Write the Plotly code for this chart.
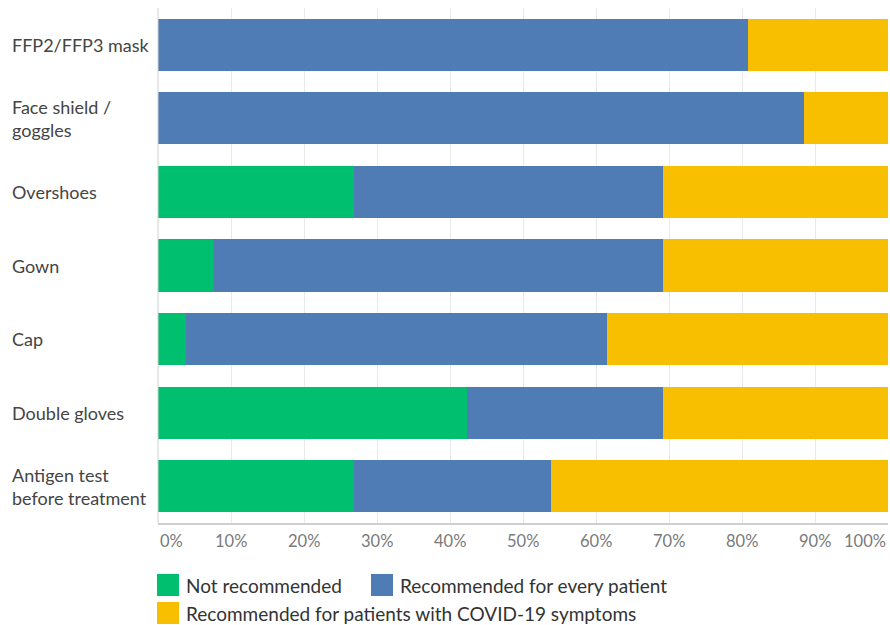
import plotly.graph_objects as go

categories = ["FFP2/FFP3 mask", "Face shield /<br>goggles", "Overshoes", "Gown", "Cap",
              "Double gloves", "Antigen test<br>before treatment"]
not_recommended = [0, 0, 26.9, 7.7, 3.8, 42.3, 26.9]
every_patient = [80.8, 88.5, 42.3, 61.5, 57.7, 26.9, 26.9]
covid_symptoms = [19.2, 11.5, 30.8, 30.8, 38.5, 30.8, 46.2]
tick_vals = [0, 10, 20, 30, 40, 50, 60, 70, 80, 90, 100]
tick_text = ["0%", "10%", "20%", "30%", "40%", "50%", "60%", "70%", "80%", "90%", "100%"]
series_names = ["Not recommended", "Recommended for every patient",
                "Recommended for patients with COVID-19 symptoms"]

GREEN, BLUE, YELLOW = "#00BF6F", "#507CB6", "#F8BF00"

W, H = 890, 625
L, R, T, B = 158, 2, 8, 102
PW, PH = W - L - R, H - T - B


def px(x):
    return (x - L) / PW


def py(y):
    return (H - B - y) / PH


fig = go.Figure()
for name, vals, col in zip(series_names, [not_recommended, every_patient, covid_symptoms],
                           [GREEN, BLUE, YELLOW]):
    fig.add_trace(go.Bar(y=list(range(len(categories))), x=vals, name=name, orientation="h",
                         marker=dict(color=col, line=dict(width=0)), showlegend=False))

ann = []
# category labels, left aligned
for i, c in enumerate(categories):
    ann.append(dict(x=px(10), xref="paper", y=i, yref="y", text=c, showarrow=False,
                    xanchor="left", yanchor="middle", align="left",
                    font=dict(family="Lato", size=18, color="#444444")))
# tick labels
for v, t in zip(tick_vals, tick_text):
    anchor = "left" if v == 0 else ("right" if v == 100 else "center")
    ann.append(dict(x=v, xref="x", y=py(541), yref="paper", text=t, showarrow=False,
                    xanchor=anchor, yanchor="middle",
                    font=dict(family="Lato", size=16.5, color="#7a7a7a")))

# manual legend
shapes = []
legend_items = [(157, 585, GREEN, series_names[0]), (371, 585, BLUE, series_names[1]),
                (157, 613, YELLOW, series_names[2])]
for x0, yc, col, name in legend_items:
    shapes.append(dict(type="rect", xref="paper", yref="paper",
                       x0=px(x0), x1=px(x0 + 22), y0=py(yc + 11), y1=py(yc - 11),
                       fillcolor=col, line=dict(width=0)))
    ann.append(dict(x=px(x0 + 27), xref="paper", y=py(yc), yref="paper", text=name,
                    showarrow=False, xanchor="left", yanchor="middle",
                    font=dict(family="Lato", size=19, color="#333333")))

# left axis line
shapes.append(dict(type="line", xref="paper", yref="paper", x0=0, x1=0, y0=0, y1=1,
                   line=dict(color="#d0d0d0", width=1)))

fig.update_layout(
    width=W, height=H, barmode="stack", bargap=0.29,
    margin=dict(l=L, r=R, t=T, b=B),
    paper_bgcolor="white", plot_bgcolor="white",
    xaxis=dict(range=[0, 100], tickvals=tick_vals, showticklabels=False,
               showgrid=True, gridcolor="#e9e9e9", gridwidth=1, zeroline=False,
               showline=True, linecolor="#cfcfcf", linewidth=2, fixedrange=True),
    yaxis=dict(range=[len(categories) - 0.5, -0.5], autorange=False,
               showticklabels=False, showgrid=False, zeroline=False, fixedrange=True),
    annotations=ann, shapes=shapes,
)

fig.write_html("out.html", config={"displayModeBar": False},
               post_script="document.body.style.margin='0';document.body.style.overflow='hidden';")
